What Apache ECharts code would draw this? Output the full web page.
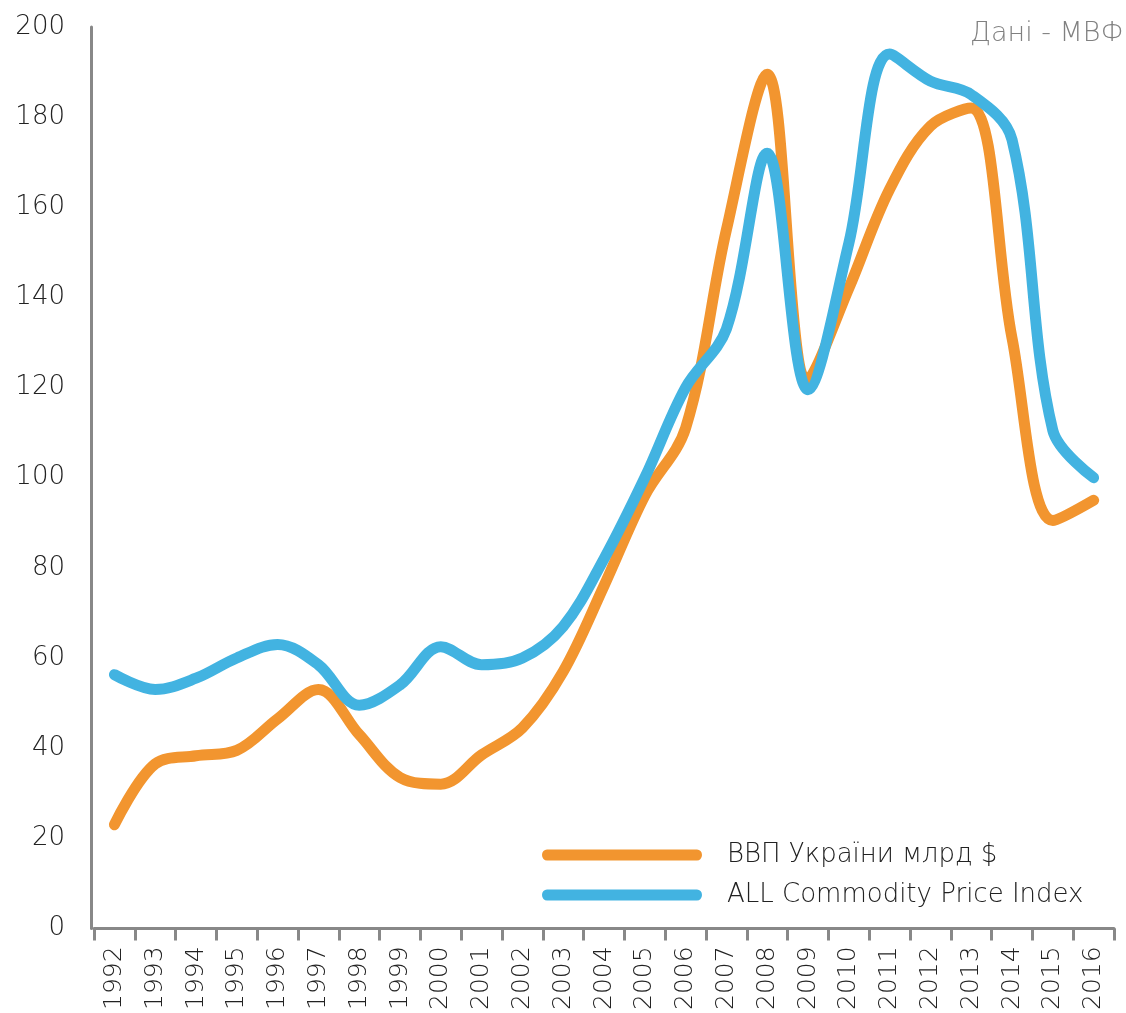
<!DOCTYPE html>
<html>
<head>
<meta charset="utf-8">
<script src="https://cdn.jsdelivr.net/npm/echarts@6/dist/echarts.min.js"></script>
<style>
  html, body { margin: 0; padding: 0; background: #fff; }
  #chart { width: 1126px; height: 1013px; }
</style>
</head>
<body>
<div id="chart"></div>
<script>
var years = ['1992','1993','1994','1995','1996','1997','1998','1999','2000','2001','2002','2003',
  '2004','2005','2006','2007','2008','2009','2010','2011','2012','2013','2014','2015','2016'];
// ВВП України, млрд $
var gdpUkraine = [23, 36.5, 38.3, 39.5, 46.5, 53, 43, 33.5, 32, 38.5, 44.5, 57,
  76, 96, 111, 155, 189.5, 122, 142, 164, 178, 182, 131, 90.5, 95];
// ALL Commodity Price Index
var commodityIndex = [56.3, 53, 55.5, 60, 63, 58.5, 49.5, 54, 62.5, 58.5, 60, 67,
  82, 100, 120, 133, 172, 119.5, 152, 194, 188, 185, 175, 110.5, 100];
var yTicks = [0, 200, 20]; // min, max, step

(function(){
  var chartDom = document.getElementById('chart');
  var myChart = echarts.init(chartDom);
  var pill = 'path://M5,0 L155,0 A5,5 0 0 1 155,10 L5,10 A5,5 0 0 1 5,0 Z';
  var font = '"DejaVu Sans", sans-serif';
  var option = {
    animation: false,
    title: {
      text: 'Дані - МВФ',
      left: 965,
      top: 15,
      textStyle: { color: '#808080', fontSize: 27, fontWeight: 200, fontFamily: font }
    },
    legend: {
      orient: 'vertical',
      left: 537,
      top: 836,
      itemWidth: 160,
      itemHeight: 11,
      itemGap: 12,
      symbolKeepAspect: false,
      textStyle: { color: '#222', fontSize: 26, fontWeight: 200, fontFamily: font, lineHeight: 28, padding: [0, 0, 0, 20] },
      data: [
        { name: 'ВВП України млрд $', icon: pill },
        { name: 'ALL Commodity Price Index', icon: pill }
      ]
    },
    grid: { left: 94, right: 12, top: 27, bottom: 80 },
    xAxis: {
      type: 'category',
      data: years,
      boundaryGap: true,
      axisLine: { lineStyle: { color: '#888', width: 3 } },
      axisTick: { show: true, length: 12, lineStyle: { color: '#888', width: 3 } },
      axisLabel: { rotate: 90, interval: 0, margin: 18, color: '#222', fontSize: 25, fontWeight: 200, fontFamily: font }
    },
    yAxis: {
      type: 'value',
      min: yTicks[0],
      max: yTicks[1],
      interval: yTicks[2],
      offset: 3,
      axisLine: { show: true, lineStyle: { color: '#888', width: 3 } },
      axisTick: { show: false },
      splitLine: { show: false },
      axisLabel: { margin: 26, color: '#222', fontSize: 26, fontWeight: 200, fontFamily: font }
    },
    series: [
      {
        name: 'ВВП України млрд $',
        type: 'line',
        data: gdpUkraine,
        smooth: 0.35,
        symbol: 'none',
        z: 2,
        color: '#F2952F',
        lineStyle: { color: '#F2952F', width: 11, cap: 'round', join: 'round' }
      },
      {
        name: 'ALL Commodity Price Index',
        type: 'line',
        data: commodityIndex,
        smooth: 0.35,
        symbol: 'none',
        z: 3,
        color: '#42B3E1',
        lineStyle: { color: '#42B3E1', width: 11, cap: 'round', join: 'round' }
      }
    ]
  };
  option && myChart.setOption(option);
})();
</script>
</body>
</html>
